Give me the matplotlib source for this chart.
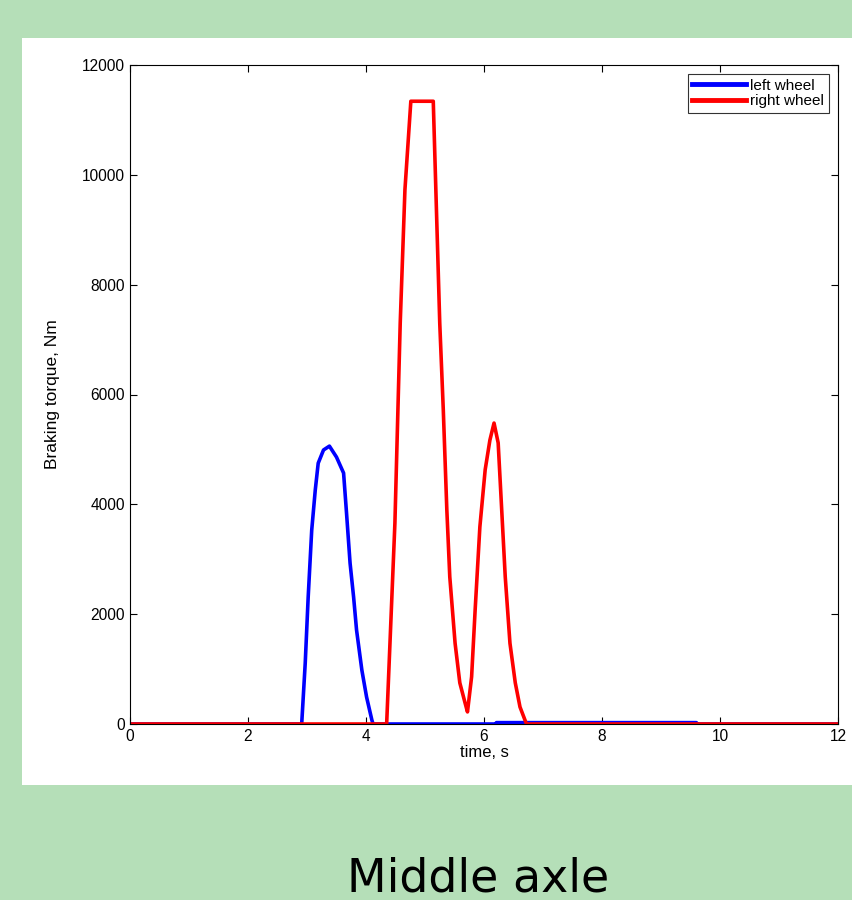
import numpy as np
import matplotlib.pyplot as plt
from matplotlib.patches import Rectangle

# ---- data ----
t_left = [0, 2.91, 2.97, 3.02, 3.08, 3.14, 3.19, 3.28, 3.38, 3.50, 3.62, 3.67, 3.73,
          3.79, 3.84, 3.93, 4.01, 4.10, 4.12, 6.20, 6.21, 9.60, 9.61, 12]
left_wheel = [0, 0, 1110, 2310, 3530, 4260, 4750, 4990, 5060, 4860, 4570, 3840, 2930,
              2310, 1710, 980, 490, 70, 0, 0, 25, 25, 0, 0]

t_right = [0, 4.35, 4.49, 4.58, 4.66, 4.76, 5.14, 5.25, 5.31, 5.37, 5.42, 5.51, 5.59,
           5.68, 5.72, 5.79, 5.85, 5.93, 6.02, 6.10, 6.17, 6.24, 6.30, 6.36, 6.44,
           6.53, 6.61, 6.72, 12]
right_wheel = [0, 0, 3660, 7300, 9730, 11340, 11340, 7300, 5720, 3900, 2680, 1470, 750,
               380, 220, 860, 2080, 3590, 4630, 5170, 5480, 5120, 3900, 2680, 1470,
               750, 310, 0, 0]

xticks = [0, 2, 4, 6, 8, 10, 12]
yticks = [0, 2000, 4000, 6000, 8000, 10000, 12000]

plt.rcParams['font.family'] = ['Liberation Sans', 'DejaVu Sans']

fig = plt.figure(figsize=(8.52, 9.0), dpi=100)
fig.patch.set_facecolor('#b5dfb8')

# white panel behind the chart
fig.add_artist(Rectangle((22/852, 115/900), 830/852, 747/900,
                         transform=fig.transFigure, facecolor='white',
                         edgecolor='none', zorder=-5))

ax = fig.add_axes([130/852, 176/900, 708/852, 659/900])
ax.set_zorder(2)
ax.plot(t_left, left_wheel, color='#0000ff', lw=2.6, label='left wheel',
        solid_joinstyle='round')
ax.plot(t_right, right_wheel, color='#ff0000', lw=2.6, label='right wheel',
        solid_joinstyle='round')

ax.set_xlim(0, 12)
ax.set_ylim(0, 12000)
ax.set_xticks(xticks)
ax.set_yticks(yticks)
ax.tick_params(direction='in', top=True, right=True, labelsize=11.2, length=5, width=0.8)
for s in ax.spines.values():
    s.set_linewidth(0.8)

ax.set_xlabel('time, s', fontsize=12, labelpad=1)
ax.set_ylabel('Braking torque, Nm', fontsize=12.5, labelpad=16)

leg = ax.legend(loc='upper right', fontsize=11, frameon=True, fancybox=False,
                handlelength=3.5, handletextpad=0.3, borderpad=0.3,
                labelspacing=0.1, borderaxespad=0.6)
leg.get_frame().set_edgecolor('black')
leg.get_frame().set_linewidth(0.8)
for line in leg.get_lines():
    line.set_linewidth(3.5)

fig.text(478/852, 1 - 879/900, 'Middle axle', ha='center', va='center',
         fontsize=33, family=['DejaVu Sans'])

fig.savefig('out.png', dpi=100, facecolor=fig.get_facecolor())
